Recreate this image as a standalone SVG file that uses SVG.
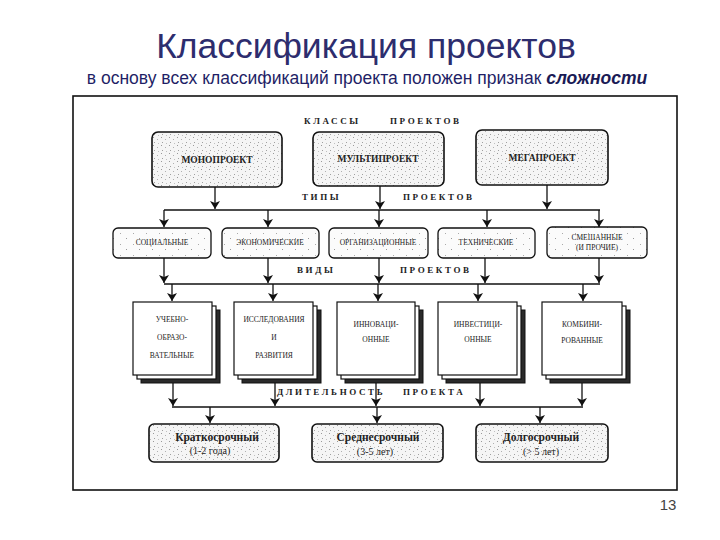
<svg xmlns="http://www.w3.org/2000/svg" width="720" height="540" viewBox="0 0 720 540">
<style>
.title{font-family:"Liberation Sans",Arial,sans-serif;font-size:35.5px;fill:#2d2d6e}
.sub{font-family:"Liberation Sans",Arial,sans-serif;font-size:17.5px;fill:#1f1f66}
.subb{font-weight:bold;font-style:italic;fill:#1a1a55}
.lbl{font-family:"Liberation Serif","Times New Roman",serif;font-size:9px;font-weight:bold;letter-spacing:2.6px;fill:#222}
.cls{font-family:"Liberation Serif","Times New Roman",serif;font-size:9.5px;font-weight:bold;fill:#222;text-anchor:middle}
.sm{font-family:"Liberation Serif","Times New Roman",serif;font-size:7.5px;fill:#222;text-anchor:middle}
.dur{font-family:"Liberation Serif","Times New Roman",serif;font-size:11.5px;font-weight:bold;fill:#222;text-anchor:middle}
.durs{font-family:"Liberation Serif","Times New Roman",serif;font-size:10px;fill:#222;text-anchor:middle}
.tex{fill:url(#dots);stroke:#111;stroke-width:1.6}
.typ{fill:url(#sparse);stroke:#111;stroke-width:1.3}
.sp{fill:#fff;stroke:#111;stroke-width:1.2}
.sh{fill:#2a2a2a;stroke:#111;stroke-width:1}
.ln{fill:none;stroke:#111;stroke-width:1.3}
.ar{fill:none;stroke:#111;stroke-width:1.3;marker-end:url(#ah)}
</style>
<defs>
<pattern id="dots" width="8" height="8" patternUnits="userSpaceOnUse">
<rect width="8" height="8" fill="#f5f5f5"/>
<rect x="1" y="1" width="1" height="1" fill="#999"/>
<rect x="5" y="3" width="1" height="1" fill="#b0b0b0"/>
<rect x="2" y="6" width="1" height="1" fill="#a0a0a0"/>
<rect x="6" y="7" width="1" height="1" fill="#c0c0c0"/>
</pattern>
<pattern id="sparse" width="13" height="11" patternUnits="userSpaceOnUse">
<rect width="13" height="11" fill="#fbfbfb"/>
<rect x="3" y="2" width="1" height="1" fill="#aaa"/>
<rect x="9" y="7" width="1" height="1" fill="#999"/>
</pattern>
<marker id="ah" viewBox="0 0 8 10" refX="8" refY="5" markerWidth="8" markerHeight="10" markerUnits="userSpaceOnUse" orient="auto">
<path d="M0,0 L8,5 L0,10 L2,5 z" fill="#111"/>
</marker>
</defs>
<rect width="720" height="540" fill="#fff"/>

<text class="title" x="366" y="58" text-anchor="middle">Классификация проектов</text>
<text class="sub" x="367" y="84" text-anchor="middle">в основу всех классификаций проекта положен признак <tspan class="subb">сложности</tspan></text>

<rect x="73" y="96" width="604" height="394" fill="none" stroke="#111" stroke-width="1.6"/>

<g id="labels">
<text class="lbl" y="124"><tspan x="304">КЛАССЫ</tspan><tspan x="390">ПРОЕКТОВ</tspan></text>
<text class="lbl" y="200"><tspan x="302">ТИПЫ</tspan><tspan x="403">ПРОЕКТОВ</tspan></text>
<text class="lbl" y="273"><tspan x="297">ВИДЫ</tspan><tspan x="400">ПРОЕКТОВ</tspan></text>
<text class="lbl" y="395"><tspan x="277">ДЛИТЕЛЬНОСТЬ</tspan><tspan x="403">ПРОЕКТА</tspan></text>
</g>

<g id="connectors">
<path class="ar" d="M215,187 V209"/>
<path class="ar" d="M380,186 V209"/>
<path class="ar" d="M547,185 V209"/>
<path class="ln" d="M164,210 H600"/>
<path class="ar" d="M164,210 V227"/>
<path class="ar" d="M268,210 V227"/>
<path class="ar" d="M379,210 V227"/>
<path class="ar" d="M487,210 V227"/>
<path class="ar" d="M599,210 V227"/>
<path class="ar" d="M164,258 V283"/>
<path class="ar" d="M268,258 V283"/>
<path class="ar" d="M379,258 V283"/>
<path class="ar" d="M485,258 V283"/>
<path class="ar" d="M599,258 V283"/>
<path class="ln" d="M164,284 H600"/>
<path class="ar" d="M172,284 V301"/>
<path class="ar" d="M273,284 V301"/>
<path class="ar" d="M378,284 V301"/>
<path class="ar" d="M478,284 V301"/>
<path class="ar" d="M583,284 V301"/>
<path class="ar" d="M173,378 V406"/>
<path class="ar" d="M275,378 V406"/>
<path class="ar" d="M376,378 V406"/>
<path class="ar" d="M480,378 V406"/>
<path class="ar" d="M582,378 V406"/>
<path class="ln" d="M172,407 H583"/>
<path class="ar" d="M210,407 V423"/>
<path class="ar" d="M377,407 V423"/>
<path class="ar" d="M540,407 V423"/>
</g>

<g id="mono">
<rect class="tex" x="152" y="132" width="130" height="55" rx="6"/>
<text class="cls" x="217" y="163">МОНОПРОЕКТ</text>
</g>
<g id="multi">
<rect class="tex" x="313" y="132" width="131" height="54" rx="6"/>
<text class="cls" x="378" y="162">МУЛЬТИПРОЕКТ</text>
</g>
<g id="mega">
<rect class="tex" x="476" y="130" width="132" height="55" rx="6"/>
<text class="cls" x="542" y="161">МЕГАПРОЕКТ</text>
</g>

<g id="social">
<rect class="typ" x="113" y="228" width="98" height="30" rx="5"/>
<text class="sm" x="162" y="245">СОЦИАЛЬНЫЕ</text>
</g>
<g id="economic">
<rect class="typ" x="222" y="228" width="97" height="30" rx="5"/>
<text class="sm" x="270" y="245">ЭКОНОМИЧЕСКИЕ</text>
</g>
<g id="organizational">
<rect class="typ" x="329" y="228" width="99" height="30" rx="5"/>
<text class="sm" x="378" y="245">ОРГАНИЗАЦИОННЫЕ</text>
</g>
<g id="technical">
<rect class="typ" x="438" y="228" width="97" height="30" rx="5"/>
<text class="sm" x="486" y="245">ТЕХНИЧЕСКИЕ</text>
</g>
<g id="mixed">
<rect class="typ" x="547" y="227" width="100" height="31" rx="5"/>
<text class="sm" x="597" y="240">СМЕШАННЫЕ</text>
<text class="sm" x="597" y="250">(И ПРОЧИЕ)</text>
</g>

<g id="educational">
<rect class="sh" x="141" y="310" width="79" height="73"/>
<rect class="sp" x="137" y="306" width="79" height="73"/>
<rect class="sp" x="133" y="302" width="79" height="73"/>
<text class="sm" x="172" y="322">УЧЕБНО-</text>
<text class="sm" x="172" y="340">ОБРАЗО-</text>
<text class="sm" x="172" y="358">ВАТЕЛЬНЫЕ</text>
</g>
<g id="research">
<rect class="sh" x="242" y="310" width="79" height="73"/>
<rect class="sp" x="238" y="306" width="79" height="73"/>
<rect class="sp" x="234" y="302" width="79" height="73"/>
<text class="sm" x="274" y="322">ИССЛЕДОВАНИЯ</text>
<text class="sm" x="274" y="340">И</text>
<text class="sm" x="274" y="358">РАЗВИТИЯ</text>
</g>
<g id="innovative">
<rect class="sh" x="345" y="310" width="78" height="73"/>
<rect class="sp" x="341" y="306" width="78" height="73"/>
<rect class="sp" x="337" y="302" width="78" height="73"/>
<text class="sm" x="376" y="327">ИННОВАЦИ-</text>
<text class="sm" x="376" y="342">ОННЫЕ</text>
</g>
<g id="investment">
<rect class="sh" x="446" y="310" width="79" height="73"/>
<rect class="sp" x="442" y="306" width="79" height="73"/>
<rect class="sp" x="438" y="302" width="79" height="73"/>
<text class="sm" x="478" y="327">ИНВЕСТИЦИ-</text>
<text class="sm" x="478" y="342">ОННЫЕ</text>
</g>
<g id="combined">
<rect class="sh" x="550" y="310" width="80" height="73"/>
<rect class="sp" x="546" y="306" width="80" height="73"/>
<rect class="sp" x="542" y="302" width="80" height="73"/>
<text class="sm" x="582" y="327">КОМБИНИ-</text>
<text class="sm" x="582" y="343">РОВАННЫЕ</text>
</g>

<g id="short">
<rect class="tex" x="149" y="424" width="130" height="38" rx="5"/>
<text class="dur" x="217" y="441">Краткосрочный</text>
<text class="durs" x="210" y="454">(1-2 года)</text>
</g>
<g id="medium">
<rect class="tex" x="312" y="424" width="131" height="38" rx="5"/>
<text class="dur" x="378" y="441">Среднесрочный</text>
<text class="durs" x="375" y="455">(3-5 лет)</text>
</g>
<g id="long">
<rect class="tex" x="476" y="424" width="132" height="38" rx="5"/>
<text class="dur" x="541" y="441">Долгосрочный</text>
<text class="durs" x="541" y="455">(&gt; 5 лет)</text>
</g>

<text x="668" y="510" font-family="Liberation Sans,Arial,sans-serif" font-size="15" fill="#444" text-anchor="middle">13</text>
</svg>
